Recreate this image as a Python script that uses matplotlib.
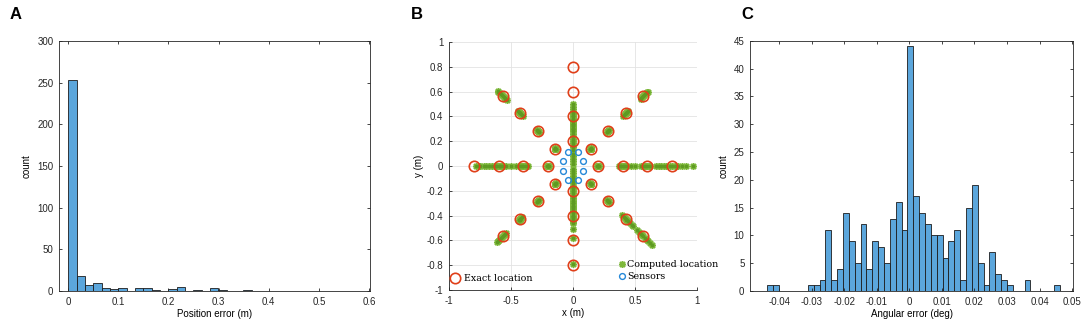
import numpy as np
import matplotlib.pyplot as plt
from matplotlib.lines import Line2D

# ---- Panel A: position error histogram ----
pos_bin_start = 0.0008
pos_bin_width = 0.0166
pos_counts = [253, 18, 7, 10, 3, 2, 4, 0, 4, 3, 1, 0, 2, 5, 0, 1, 0, 4, 1, 0, 0, 1]

# ---- Panel C: angular error histogram ----
ang_bin_start = -0.0438
ang_bin_width = 0.0018
ang_counts = [1, 1, 0, 0, 0, 0, 0, 1, 1, 2, 11, 2, 4, 14, 9, 5, 12, 4, 9, 8, 5, 13, 16, 11,
              44, 17, 14, 12, 10, 10, 6, 9, 11, 2, 15, 19, 5, 1, 7, 3, 2, 1, 0, 0, 2, 0, 0, 0, 0, 1]

# ---- Panel B: locations ----
exact_r = [0.2, 0.4, 0.6, 0.8]
arm_angles = [0, 45, 90, 135, 180, 225, 270, 315]

sensors_x = [-0.04, 0.04, -0.08, 0.08, -0.08, 0.08, -0.04, 0.04]
sensors_y = [0.115, 0.115, 0.04, 0.04, -0.04, -0.04, -0.115, -0.115]

# radial distance of computed locations along each arm
comp_east = [0.19, 0.20, 0.20, 0.20, 0.21, 0.20, 0.19, 0.21, 0.20, 0.20,
             0.37, 0.38, 0.39, 0.39, 0.40, 0.40, 0.41, 0.42, 0.43, 0.47,
             0.50, 0.55, 0.57, 0.58, 0.59, 0.60, 0.61, 0.62, 0.67, 0.69,
             0.71, 0.73, 0.75, 0.78, 0.80, 0.82, 0.85, 0.88, 0.91, 0.97]
comp_ne = [0.19, 0.20, 0.20, 0.21, 0.20, 0.19, 0.20, 0.21, 0.20, 0.20,
           0.39, 0.40, 0.40, 0.41, 0.40, 0.39, 0.40, 0.41, 0.40, 0.40,
           0.57, 0.58, 0.59, 0.60, 0.60, 0.61, 0.61, 0.62, 0.62, 0.63,
           0.77, 0.78, 0.79, 0.80, 0.80, 0.81, 0.82, 0.83, 0.84, 0.85]
comp_north = [0.02, 0.04, 0.06, 0.08, 0.10, 0.13, 0.15, 0.17, 0.19, 0.20,
              0.20, 0.22, 0.24, 0.26, 0.28, 0.30, 0.32, 0.34, 0.36, 0.40,
              0.28, 0.30, 0.31, 0.33, 0.34, 0.36, 0.38, 0.40, 0.42, 0.44,
              0.30, 0.32, 0.34, 0.36, 0.38, 0.40, 0.43, 0.46, 0.48, 0.50]
comp_nw = [0.19, 0.20, 0.20, 0.21, 0.20, 0.19, 0.20, 0.21, 0.20, 0.20,
           0.39, 0.40, 0.40, 0.41, 0.40, 0.39, 0.40, 0.41, 0.40, 0.40,
           0.57, 0.58, 0.59, 0.60, 0.60, 0.61, 0.61, 0.62, 0.62, 0.63,
           0.75, 0.77, 0.78, 0.79, 0.80, 0.81, 0.82, 0.83, 0.85, 0.86]
comp_west = [0.19, 0.20, 0.20, 0.20, 0.21, 0.20, 0.19, 0.21, 0.20, 0.20,
             0.36, 0.37, 0.38, 0.39, 0.40, 0.40, 0.41, 0.42, 0.43, 0.46,
             0.50, 0.54, 0.56, 0.57, 0.58, 0.59, 0.60, 0.61, 0.62, 0.63,
             0.59, 0.60, 0.62, 0.65, 0.68, 0.70, 0.72, 0.75, 0.76, 0.78]
comp_sw = [0.19, 0.20, 0.20, 0.21, 0.20, 0.19, 0.20, 0.21, 0.20, 0.20,
           0.39, 0.40, 0.40, 0.41, 0.40, 0.39, 0.40, 0.41, 0.40, 0.40,
           0.58, 0.59, 0.59, 0.60, 0.60, 0.60, 0.61, 0.61, 0.62, 0.62,
           0.76, 0.77, 0.78, 0.79, 0.80, 0.81, 0.82, 0.84, 0.86, 0.87]
comp_south = [0.02, 0.04, 0.06, 0.08, 0.10, 0.12, 0.14, 0.16, 0.18, 0.20,
              0.18, 0.20, 0.22, 0.24, 0.26, 0.28, 0.30, 0.32, 0.35, 0.40,
              0.26, 0.28, 0.30, 0.32, 0.34, 0.37, 0.40, 0.42, 0.45, 0.58,
              0.30, 0.33, 0.36, 0.38, 0.40, 0.41, 0.43, 0.46, 0.51, 0.79]
comp_se = [0.19, 0.20, 0.20, 0.21, 0.20, 0.19, 0.20, 0.21, 0.20, 0.20,
           0.39, 0.40, 0.40, 0.41, 0.40, 0.39, 0.40, 0.41, 0.40, 0.40,
           0.56, 0.58, 0.59, 0.60, 0.61, 0.62, 0.63, 0.65, 0.67, 0.68,
           0.73, 0.75, 0.77, 0.79, 0.80, 0.82, 0.84, 0.86, 0.88, 0.90]
comp_arms = [comp_east, comp_ne, comp_north, comp_nw, comp_west, comp_sw, comp_south, comp_se]

HIST_FACE = '#5ba6dc'
HIST_EDGE = '#1c1c1c'
RED = '#e0401a'
GREEN = '#7db83a'
GREEN_DARK = '#5e9a22'
BLUE = '#2488d8'
AX_COL = '#262626'

plt.rcParams['font.family'] = ['Liberation Sans', 'DejaVu Sans']
plt.rcParams['font.size'] = 7


def polar_xy(rs, deg):
    t = np.deg2rad(deg)
    rs = np.asarray(rs, dtype=float)
    return rs * np.cos(t), rs * np.sin(t)


def style_box(ax):
    for s in ax.spines.values():
        s.set_color(AX_COL)
        s.set_linewidth(0.6)
    ax.tick_params(direction='in', top=True, right=True, length=2.5, width=0.6,
                   colors=AX_COL, labelsize=7, pad=4)


fig = plt.figure(figsize=(10.84, 3.24), dpi=100)

# ---- A ----
axA = fig.add_axes([0.0544, 0.1019, 0.287, 0.772])
lefts = pos_bin_start + pos_bin_width * np.arange(len(pos_counts))
axA.bar(lefts, pos_counts, width=pos_bin_width, align='edge', color=HIST_FACE,
        edgecolor=HIST_EDGE, linewidth=0.6)
axA.set_xlim(-0.018, 0.602)
axA.set_ylim(0, 300)
axA.set_xticks(np.arange(0, 0.61, 0.1))
axA.set_xticklabels(['0', '0.1', '0.2', '0.3', '0.4', '0.5', '0.6'])
axA.set_yticks(np.arange(0, 301, 50))
axA.set_xlabel('Position error (m)', labelpad=2)
axA.set_ylabel('count', labelpad=4)
style_box(axA)

# ---- B ----
axB = fig.add_axes([0.4142, 0.105, 0.2288, 0.765])
for deg, rs in zip(arm_angles, comp_arms):
    cx, cy = polar_xy(rs, deg)
    axB.plot(cx, cy, linestyle='none', marker=(8, 2, 0), ms=5, mew=1.1,
             color=GREEN, zorder=3)
    axB.plot(cx, cy, linestyle='none', marker='o', ms=2.6, mew=0,
             color=GREEN_DARK, zorder=3)
for deg in arm_angles:
    ex, ey = polar_xy(exact_r, deg)
    axB.plot(ex, ey, linestyle='none', marker='o', ms=7.5, mfc='none', mec=RED,
             mew=1.2, zorder=4)
axB.plot(sensors_x, sensors_y, linestyle='none', marker='o', ms=4.2, mfc='none',
         mec=BLUE, mew=1.0, zorder=4)
axB.set_xlim(-1, 1)
axB.set_ylim(-1, 1)
axB.set_xticks([-1, -0.5, 0, 0.5, 1])
axB.set_xticklabels(['-1', '-0.5', '0', '0.5', '1'])
yt = np.round(np.arange(-1, 1.01, 0.2), 1)
axB.set_yticks(yt)
axB.set_yticklabels(['%g' % v if v != 0 else '0' for v in yt])
axB.grid(True, color='#e3e3e3', linewidth=0.6)
axB.set_axisbelow(True)
axB.spines['top'].set_visible(False)
axB.spines['right'].set_visible(False)
for s in ['left', 'bottom']:
    axB.spines[s].set_color(AX_COL)
    axB.spines[s].set_linewidth(0.6)
axB.tick_params(direction='in', length=2.5, width=0.6, colors=AX_COL, labelsize=7, pad=4)
axB.set_xlabel('x (m)', labelpad=2)
axB.set_ylabel('y (m)', labelpad=2)

serif = {'family': 'DejaVu Serif', 'size': 6.8}
h_exact = Line2D([], [], linestyle='none', marker='o', ms=7.5, mfc='none', mec=RED, mew=1.2)
h_comp = Line2D([], [], linestyle='none', marker=(8, 2, 0), ms=5, mew=1.1, color=GREEN)
h_sens = Line2D([], [], linestyle='none', marker='o', ms=4.2, mfc='none', mec=BLUE, mew=1.0)
leg1 = axB.legend([h_exact], ['Exact location'], loc='lower left', bbox_to_anchor=(-0.02, 0.0),
                  frameon=False, prop=serif, handlelength=1.0, handletextpad=0.4,
                  borderaxespad=0.3)
axB.add_artist(leg1)
axB.legend([h_comp, h_sens], ['Computed location', 'Sensors'], loc='lower left',
           bbox_to_anchor=(0.66, 0.01), frameon=False, prop=serif, handlelength=0.6,
           handletextpad=0.2, labelspacing=0.3, borderaxespad=0.3)

# ---- C ----
axC = fig.add_axes([0.6919, 0.1019, 0.298, 0.772])
lefts_c = ang_bin_start + ang_bin_width * np.arange(len(ang_counts))
axC.bar(lefts_c, ang_counts, width=ang_bin_width, align='edge', color=HIST_FACE,
        edgecolor=HIST_EDGE, linewidth=0.6)
axC.set_xlim(-0.049, 0.0503)
axC.set_ylim(0, 45)
axC.set_xticks(np.round(np.arange(-0.04, 0.051, 0.01), 2))
axC.set_xticklabels(['-0.04', '-0.03', '-0.02', '-0.01', '0', '0.01', '0.02', '0.03', '0.04', '0.05'])
axC.set_yticks(np.arange(0, 46, 5))
axC.set_xlabel('Angular error (deg)', labelpad=2)
axC.set_ylabel('count', labelpad=4)
style_box(axC)

# panel letters
for x, lab in [(0.009, 'A'), (0.379, 'B'), (0.684, 'C')]:
    fig.text(x, 0.955, lab, fontsize=12, fontweight='bold', va='center', ha='left')

fig.savefig('out.png', dpi=100)
plt.close(fig)
